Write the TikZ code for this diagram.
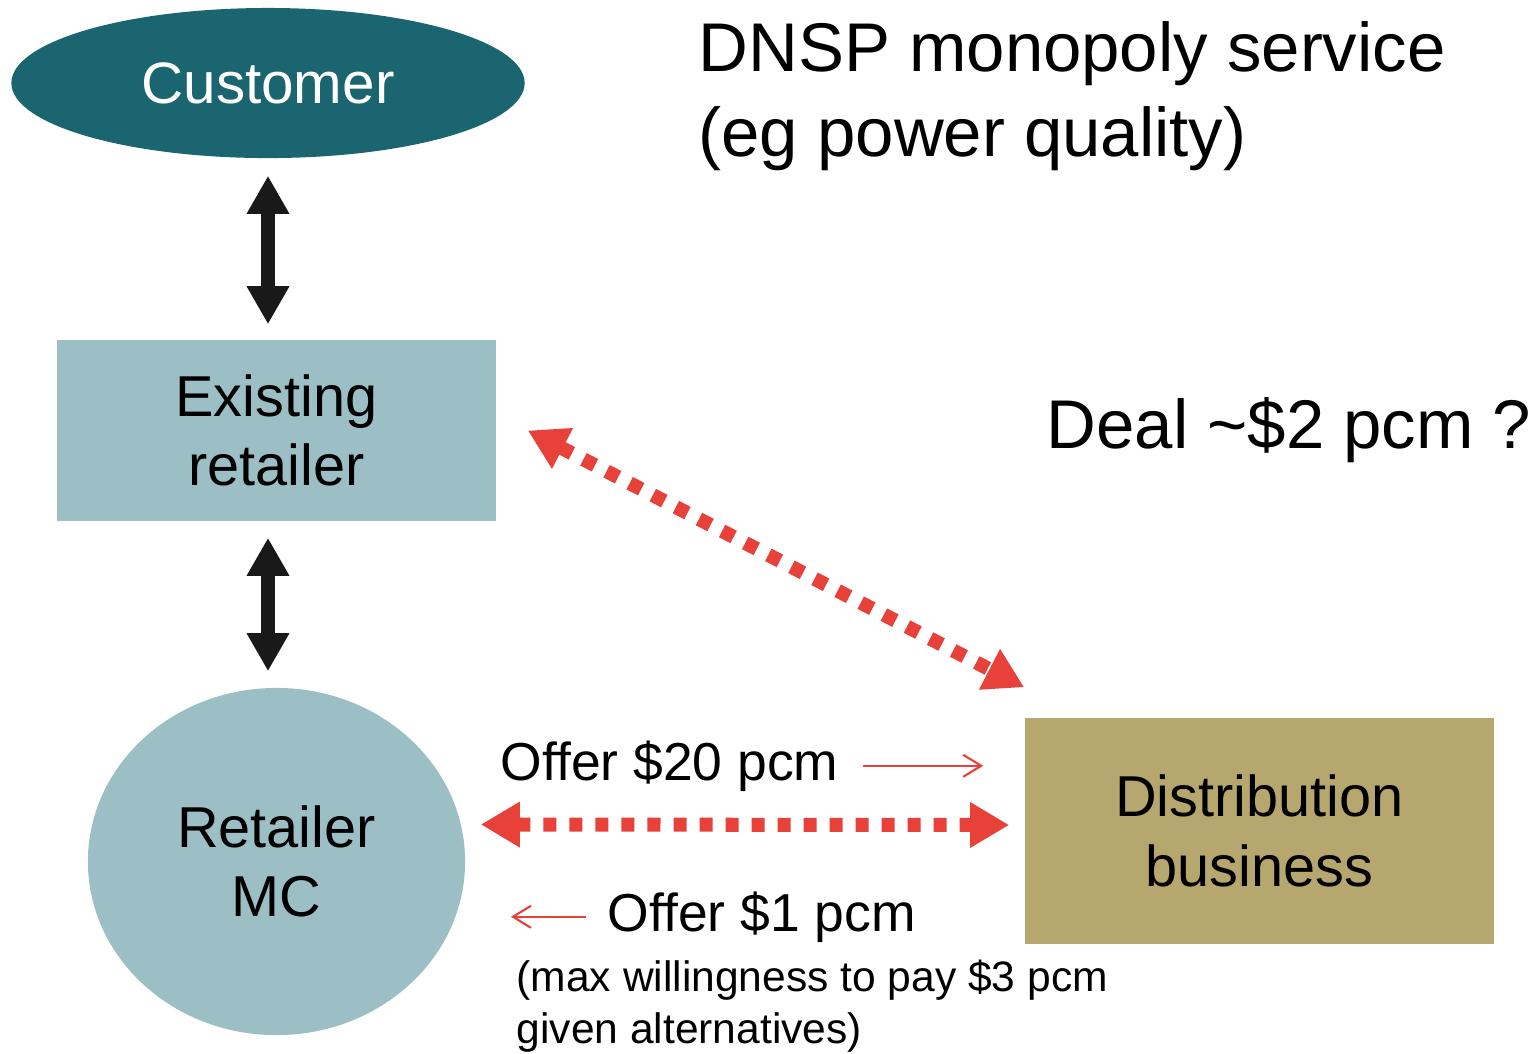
\documentclass[tikz,border=0pt]{standalone}
\usepackage{fontspec}
\setmainfont{Liberation Sans}
\usepackage{xcolor}
\usepackage{tikz}
\usetikzlibrary{shapes.geometric, arrows.meta}

\definecolor{custteal}{HTML}{1A6570}
\definecolor{paleteal}{HTML}{9BBFC4}
\definecolor{olivebox}{HTML}{B5A76E}
\definecolor{dealred}{HTML}{E8413A}

\tikzset{
    boxtext/.style={font=\fontsize{16.4}{19.8}\selectfont, align=center, inner sep=0pt},
    blackarrow/.style={line width=0.14cm, black!90,
        {Triangle[width=0.4cm,length=0.38cm]}-{Triangle[width=0.4cm,length=0.38cm]}},
    dealarrow/.style={line width=0.14cm, dealred, dash pattern=on 0.13cm off 0.13cm,
        {Triangle[width=0.43cm,length=0.39cm]}-{Triangle[width=0.43cm,length=0.39cm]}},
    offerarrow/.style={line width=0.6pt, dealred, -{Straight Barb[length=0.18cm,width=0.22cm]}}
}

\begin{document}
\begin{tikzpicture}[x=0.01cm, y=-0.01cm]
    \useasboundingbox (0,0) rectangle (1539,1053);
    % parties
    \node[boxtext, ellipse, fill=custteal, text=white, minimum width=5.13cm, minimum height=1.5cm,
        font=\fontsize{16.6}{20}\selectfont] (cust) at (268,83) {Customer};
    \node[boxtext, rectangle, fill=paleteal, minimum width=4.39cm, minimum height=1.81cm] (exist) at (276.5,430.5) {Existing\\retailer};
    \node[boxtext, ellipse, fill=paleteal, minimum width=3.77cm, minimum height=3.47cm] (mc) at (276.5,861.5) {Retailer\\MC};
    \node[boxtext, rectangle, fill=olivebox, minimum width=4.69cm, minimum height=2.26cm] (distr) at (1259.5,831) {Distribution\\business};
    % retail chain
    \draw[blackarrow, shorten <=0.17cm, shorten >=0.15cm] (cust.south) -- (cust.south |- exist.north);
    \draw[blackarrow, shorten <=0.16cm, shorten >=0.16cm] (cust.south |- exist.south) -- (cust.south |- mc.north);
    % negotiation
    \draw[dealarrow] ([xshift=0.31cm]exist.east) -- ([yshift=0.3cm]distr.north west);
    \draw[dealarrow] ([xshift=0.15cm,yshift=0.37cm]mc.east) -- ([xshift=-0.15cm,yshift=0.06cm]distr.west);
    % labels
    \node[anchor=base west, align=left, inner sep=0pt, font=\fontsize{19.6}{24}\selectfont] (dnsp) at (698,156)
        {DNSP monopoly service\\(eg power quality)};
    \node[anchor=base west, inner sep=0pt, font=\fontsize{19.6}{23.6}\selectfont] (deal) at (1046,448) {Deal \textasciitilde\$2 pcm ?};
    \node[anchor=base west, inner sep=0pt, font=\fontsize{15.2}{18}\selectfont] (offhi) at (500,780) {Offer \$20 pcm};
    \node[anchor=base west, inner sep=0pt, font=\fontsize{15.2}{18}\selectfont] (offlo) at (607,931) {Offer \$1 pcm};
    \node[anchor=base west, align=left, inner sep=0pt, font=\fontsize{12.1}{14.6}\selectfont] (wtp) at (516,1043)
        {(max willingness to pay \$3 pcm\\given alternatives)};
    \draw[offerarrow] ([xshift=0.24cm]offhi.east) -- ++(1.2cm,0);
    \draw[offerarrow] ([xshift=-0.21cm]offlo.west) -- ++(-0.75cm,0);
\end{tikzpicture}
\end{document}
